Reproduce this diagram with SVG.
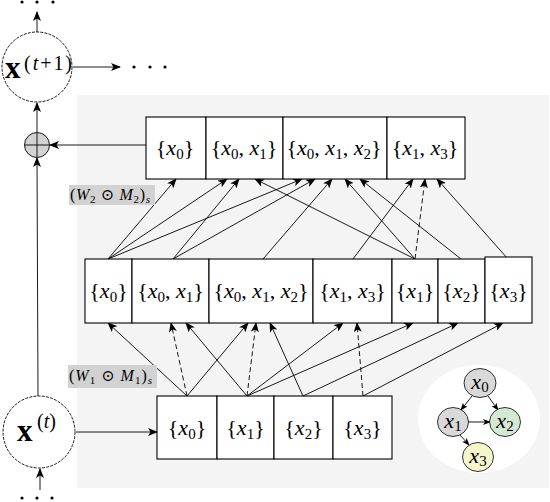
<svg xmlns="http://www.w3.org/2000/svg" width="550" height="502" viewBox="0 0 550 502">
<defs>
<marker id="ah" markerUnits="userSpaceOnUse" markerWidth="10" markerHeight="8" refX="9" refY="4" orient="auto"><path d="M0,0 L10,4 L0,8 L2.5,4 z" fill="#000"/></marker>
<marker id="ahs" markerUnits="userSpaceOnUse" markerWidth="8" markerHeight="6" refX="7" refY="3" orient="auto"><path d="M0,0 L8,3 L0,6 L2,3 z" fill="#000"/></marker>
</defs>
<style>
.t{font-family:"Liberation Serif","DejaVu Serif",serif;font-size:22px;fill:#000}
.i{font-style:italic}
.s{font-size:15px}
.box{fill:#fff;stroke:#000;stroke-width:1.1}
.e{stroke:#000;stroke-width:0.9;fill:none;marker-end:url(#ah)}
.d{stroke-dasharray:5,3}
.circ{fill:#fff;stroke:#000;stroke-width:0.9;stroke-dasharray:3,1.2}
.lab{fill:#d2d2d2}
.lt{font-family:"Liberation Serif","DejaVu Serif",serif;font-size:16px;fill:#000}
.ge{stroke:#000;stroke-width:0.9;fill:none;marker-end:url(#ahs)}
.dot{fill:#000}
</style>
<rect x="77" y="95" width="472" height="393" fill="#f4f4f4"/>
<ellipse cx="479" cy="419" rx="61" ry="54" fill="#fff"/>

<g id="connectors">
<line class="e" x1="37" y1="32" x2="37" y2="12"/>
<line class="e" x1="73" y1="67" x2="120" y2="67"/>
<line class="e" x1="37" y1="132" x2="37" y2="103"/>
<line class="e" x1="146" y1="145" x2="50" y2="145"/>
<line class="e" x1="38" y1="396" x2="37" y2="158"/>
<line class="e" x1="40" y1="490" x2="40" y2="469"/>
<line class="e" x1="76" y1="432" x2="157" y2="432"/>
<line class="e" x1="187" y1="396" x2="108" y2="323"/>
<line class="e d" x1="187" y1="396" x2="171" y2="323"/>
<line class="e" x1="187" y1="396" x2="248" y2="323"/>
<line class="e" x1="247" y1="396" x2="186" y2="323"/>
<line class="e d" x1="247" y1="396" x2="256" y2="323"/>
<line class="e" x1="247" y1="396" x2="343" y2="323"/>
<line class="e" x1="247" y1="396" x2="413" y2="323"/>
<line class="e" x1="303" y1="396" x2="270" y2="323"/>
<line class="e" x1="303" y1="396" x2="458" y2="323"/>
<line class="e d" x1="363" y1="396" x2="357" y2="323"/>
<line class="e" x1="363" y1="396" x2="503" y2="323"/>
<line class="e" x1="108" y1="259" x2="176" y2="179"/>
<line class="e" x1="108" y1="259" x2="227" y2="179"/>
<line class="e" x1="108" y1="259" x2="302" y2="179"/>
<line class="e" x1="173" y1="259" x2="239" y2="179"/>
<line class="e" x1="173" y1="259" x2="315" y2="179"/>
<line class="e" x1="263" y1="259" x2="332" y2="179"/>
<line class="e" x1="353" y1="259" x2="413" y2="179"/>
<line class="e" x1="415" y1="259" x2="255" y2="179"/>
<line class="e" x1="415" y1="259" x2="345" y2="179"/>
<line class="e d" x1="415" y1="259" x2="425" y2="179"/>
<line class="e" x1="461" y1="259" x2="360" y2="179"/>
<line class="e" x1="508" y1="259" x2="437" y2="179"/>
<line class="ge" x1="472" y1="396" x2="461" y2="410"/>
<line class="ge" x1="488" y1="396" x2="498" y2="410"/>
<line class="ge" x1="468" y1="422" x2="490" y2="422"/>
<line class="ge" x1="460" y1="435" x2="469" y2="445"/>
</g>

<g id="dots">
<circle class="dot" cx="22" cy="2" r="1.6"/><circle class="dot" cx="37" cy="2" r="1.6"/><circle class="dot" cx="53" cy="2" r="1.6"/>
<circle class="dot" cx="134" cy="67" r="1.6"/><circle class="dot" cx="150" cy="67" r="1.6"/><circle class="dot" cx="165" cy="67" r="1.6"/>
<circle class="dot" cx="22" cy="498" r="1.6"/><circle class="dot" cx="37" cy="498" r="1.6"/><circle class="dot" cx="52" cy="498" r="1.6"/>
</g>

<g id="node-xt1">
<circle class="circ" cx="37" cy="67" r="35"/>
<text class="t" x="5" y="78" style="font-size:31px;font-weight:bold">x</text>
<text class="t" x="24" y="70" style="font-size:20px" textLength="48" lengthAdjust="spacing">(<tspan class="i">t</tspan>+1)</text>
</g>
<g id="node-plus">
<circle cx="37" cy="145" r="12.5" fill="#d3d3d3" stroke="#000" stroke-width="0.9"/>
<line x1="25" y1="145" x2="49" y2="145" stroke="#000" stroke-width="0.9"/>
<line x1="37" y1="133" x2="37" y2="157" stroke="#000" stroke-width="0.9"/>
</g>
<g id="node-xt">
<circle class="circ" cx="39" cy="432" r="36"/>
<text class="t" x="17" y="441" style="font-size:31px;font-weight:bold">x</text>
<text class="t" x="37" y="428" style="font-size:20px">(<tspan class="i">t</tspan>)</text>
</g>

<g id="label-w2">
<rect class="lab" x="69" y="185" width="86" height="20"/>
<text class="lt" x="70" y="200" textLength="80" lengthAdjust="spacing">(<tspan class="i">W</tspan><tspan font-size="11" dy="3">2</tspan><tspan dy="-3"> ⊙ </tspan><tspan class="i">M</tspan><tspan font-size="11" dy="3">2</tspan><tspan dy="-3">)</tspan><tspan class="i" font-size="11" dy="3">s</tspan></text>
</g>
<g id="label-w1">
<rect class="lab" x="68" y="365" width="89" height="23"/>
<text class="lt" x="69" y="381" textLength="83" lengthAdjust="spacing">(<tspan class="i">W</tspan><tspan font-size="11" dy="3">1</tspan><tspan dy="-3"> ⊙ </tspan><tspan class="i">M</tspan><tspan font-size="11" dy="3">1</tspan><tspan dy="-3">)</tspan><tspan class="i" font-size="11" dy="3">s</tspan></text>
</g>

<g id="top-x0"><rect class="box" x="146" y="117" width="60" height="62"/>
<text class="t" x="175" y="155" text-anchor="middle">{<tspan class="i">x</tspan><tspan class="s" dy="4">0</tspan><tspan dy="-4">}</tspan></text></g>
<g id="top-x0x1"><rect class="box" x="206" y="117" width="77" height="62"/>
<text class="t" x="244" y="155" text-anchor="middle">{<tspan class="i">x</tspan><tspan class="s" dy="4">0</tspan><tspan dy="-4">, </tspan><tspan class="i">x</tspan><tspan class="s" dy="4">1</tspan><tspan dy="-4">}</tspan></text></g>
<g id="top-x0x1x2"><rect class="box" x="283" y="117" width="104" height="62"/>
<text class="t" x="334" y="155" text-anchor="middle">{<tspan class="i">x</tspan><tspan class="s" dy="4">0</tspan><tspan dy="-4">, </tspan><tspan class="i">x</tspan><tspan class="s" dy="4">1</tspan><tspan dy="-4">, </tspan><tspan class="i">x</tspan><tspan class="s" dy="4">2</tspan><tspan dy="-4">}</tspan></text></g>
<g id="top-x1x3"><rect class="box" x="387" y="117" width="78" height="62"/>
<text class="t" x="425" y="155" text-anchor="middle">{<tspan class="i">x</tspan><tspan class="s" dy="4">1</tspan><tspan dy="-4">, </tspan><tspan class="i">x</tspan><tspan class="s" dy="4">3</tspan><tspan dy="-4">}</tspan></text></g>

<g id="mid-x0"><rect class="box" x="85" y="259" width="47" height="64"/>
<text class="t" x="108.5" y="298" text-anchor="middle">{<tspan class="i">x</tspan><tspan class="s" dy="4">0</tspan><tspan dy="-4">}</tspan></text></g>
<g id="mid-x0x1"><rect class="box" x="132" y="259" width="77" height="64"/>
<text class="t" x="170.5" y="298" text-anchor="middle">{<tspan class="i">x</tspan><tspan class="s" dy="4">0</tspan><tspan dy="-4">, </tspan><tspan class="i">x</tspan><tspan class="s" dy="4">1</tspan><tspan dy="-4">}</tspan></text></g>
<g id="mid-x0x1x2"><rect class="box" x="209" y="259" width="104" height="64"/>
<text class="t" x="261" y="298" text-anchor="middle">{<tspan class="i">x</tspan><tspan class="s" dy="4">0</tspan><tspan dy="-4">, </tspan><tspan class="i">x</tspan><tspan class="s" dy="4">1</tspan><tspan dy="-4">, </tspan><tspan class="i">x</tspan><tspan class="s" dy="4">2</tspan><tspan dy="-4">}</tspan></text></g>
<g id="mid-x1x3"><rect class="box" x="313" y="259" width="79" height="64"/>
<text class="t" x="352.5" y="298" text-anchor="middle">{<tspan class="i">x</tspan><tspan class="s" dy="4">1</tspan><tspan dy="-4">, </tspan><tspan class="i">x</tspan><tspan class="s" dy="4">3</tspan><tspan dy="-4">}</tspan></text></g>
<g id="mid-x1"><rect class="box" x="392" y="259" width="46" height="64"/>
<text class="t" x="415" y="298" text-anchor="middle">{<tspan class="i">x</tspan><tspan class="s" dy="4">1</tspan><tspan dy="-4">}</tspan></text></g>
<g id="mid-x2"><rect class="box" x="438" y="259" width="47" height="64"/>
<text class="t" x="461.5" y="298" text-anchor="middle">{<tspan class="i">x</tspan><tspan class="s" dy="4">2</tspan><tspan dy="-4">}</tspan></text></g>
<g id="mid-x3"><rect class="box" x="485" y="257" width="47" height="66"/>
<text class="t" x="508.5" y="298" text-anchor="middle">{<tspan class="i">x</tspan><tspan class="s" dy="4">3</tspan><tspan dy="-4">}</tspan></text></g>

<g id="bot-x0"><rect class="box" x="157" y="396" width="60" height="63"/>
<text class="t" x="187" y="435" text-anchor="middle">{<tspan class="i">x</tspan><tspan class="s" dy="4">0</tspan><tspan dy="-4">}</tspan></text></g>
<g id="bot-x1"><rect class="box" x="217" y="396" width="57" height="63"/>
<text class="t" x="245.5" y="435" text-anchor="middle">{<tspan class="i">x</tspan><tspan class="s" dy="4">1</tspan><tspan dy="-4">}</tspan></text></g>
<g id="bot-x2"><rect class="box" x="274" y="396" width="59" height="63"/>
<text class="t" x="303.5" y="435" text-anchor="middle">{<tspan class="i">x</tspan><tspan class="s" dy="4">2</tspan><tspan dy="-4">}</tspan></text></g>
<g id="bot-x3"><rect class="box" x="333" y="396" width="59" height="63"/>
<text class="t" x="362.5" y="435" text-anchor="middle">{<tspan class="i">x</tspan><tspan class="s" dy="4">3</tspan><tspan dy="-4">}</tspan></text></g>

<g id="g-x0"><ellipse cx="480" cy="383" rx="16" ry="14.5" fill="#d9d9d9" stroke="#000" stroke-width="0.8"/>
<text class="t" x="480" y="389" text-anchor="middle"><tspan class="i">x</tspan><tspan class="s" dy="3">0</tspan></text></g>
<g id="g-x1"><ellipse cx="453" cy="422" rx="15.5" ry="14.5" fill="#d9d9d9" stroke="#000" stroke-width="0.8"/>
<text class="t" x="453" y="428" text-anchor="middle"><tspan class="i">x</tspan><tspan class="s" dy="3">1</tspan></text></g>
<g id="g-x2"><ellipse cx="505" cy="422" rx="15.5" ry="14.5" fill="#d4e9d4" stroke="#000" stroke-width="0.8"/>
<text class="t" x="505" y="428" text-anchor="middle"><tspan class="i">x</tspan><tspan class="s" dy="3">2</tspan></text></g>
<g id="g-x3"><ellipse cx="478" cy="457" rx="15.5" ry="14.5" fill="#f6f6cc" stroke="#000" stroke-width="0.8"/>
<text class="t" x="478" y="463" text-anchor="middle"><tspan class="i">x</tspan><tspan class="s" dy="3">3</tspan></text></g>
</svg>
